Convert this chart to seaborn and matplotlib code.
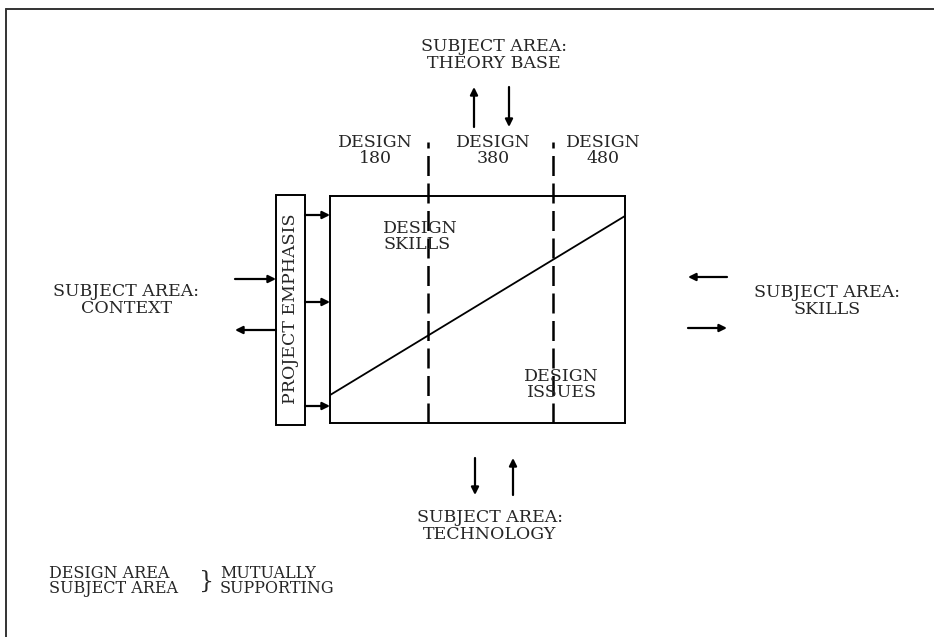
import matplotlib
matplotlib.use("Agg")
import matplotlib.pyplot as plt
from matplotlib.patches import Rectangle
import seaborn as sns

# course sequence across the studio box (0 = start, 1 = end of programme)
course_labels = ["DESIGN\n180", "DESIGN\n380", "DESIGN\n480"]
course_label_pos = [0.153, 0.553, 0.925]
course_breaks = [0.332, 0.756]

# split between design skills (above the line) and design issues (below)
progress = [0.0, 1.0]
issues_share = [0.123, 0.912]

region_labels = ["DESIGN\nSKILLS", "DESIGN\nISSUES"]

subject_top = "SUBJECT AREA:\nTHEORY BASE"
subject_bottom = "SUBJECT AREA:\nTECHNOLOGY"
subject_left = "SUBJECT AREA:\nCONTEXT"
subject_right = "SUBJECT AREA:\nSKILLS"
emphasis_label = "PROJECT EMPHASIS"
note_left = "DESIGN AREA\nSUBJECT AREA"
note_right = "MUTUALLY\nSUPPORTING"

W, H = 934, 637

sns.set_style("white")
plt.rcParams["font.family"] = ["DejaVu Serif"]

fig = plt.figure(figsize=(W / 100, H / 100), dpi=100)

# full-page canvas in pixel units for the surrounding annotations
cv = fig.add_axes([0, 0, 1, 1])
cv.set_xlim(0, W)
cv.set_ylim(H, 0)
cv.axis("off")

txt = dict(fontsize=12.5, color="#262626", linespacing=0.93)

def arrow(x0, y0, x1, y1):
    cv.annotate("", xy=(x1, y1), xytext=(x0, y0),
                arrowprops=dict(arrowstyle="-|>", lw=1.6, color="black",
                                mutation_scale=11, shrinkA=0, shrinkB=0))

# page frame (top and left rules only)
cv.plot([6, W], [9, 9], color="#333333", lw=1.4)
cv.plot([6, 6], [9, H], color="#333333", lw=1.4)

# subject areas around the studio
cv.text(494, 55, subject_top, ha="center", va="center", **txt)
arrow(474, 127, 474, 87)
arrow(509, 87, 509, 127)

cv.text(490, 526, subject_bottom, ha="center", va="center", **txt)
arrow(475, 458, 475, 495)
arrow(513, 495, 513, 458)

cv.text(126, 300, subject_left, ha="center", va="center", **txt)
arrow(235, 279, 276, 279)
arrow(276, 330, 235, 330)

cv.text(827, 301, subject_right, ha="center", va="center", **txt)
arrow(727, 277, 688, 277)
arrow(688, 328, 727, 328)

# project emphasis bar
cv.add_patch(Rectangle((276, 195), 29, 230, fill=False, lw=1.4, ec="black"))
cv.text(290.5, 309, emphasis_label, rotation=90, ha="center", va="center", **txt)
for y in [215, 302, 406]:
    arrow(305, y, 330, y)

# note at bottom left
cv.text(49, 581, note_left, ha="left", va="center", fontsize=11.5,
        color="#262626", linespacing=0.86)
cv.text(207, 581, "}", ha="center", va="center", fontsize=17, color="#262626")
cv.text(220, 581, note_right, ha="left", va="center", fontsize=11.5,
        color="#262626", linespacing=0.86)

# studio box
ax = fig.add_axes([330 / W, 1 - 423 / H, 295 / W, 227 / H])
sns.lineplot(x=progress, y=issues_share, ax=ax, color="black", lw=1.3)
ax.set_xlim(0, 1)
ax.set_ylim(0, 1)
ax.set_xticks([])
ax.set_yticks([])
ax.set_xlabel("")
ax.set_ylabel("")
for s in ax.spines.values():
    s.set_visible(True)
    s.set_color("black")
    s.set_linewidth(1.4)

ax.vlines(course_breaks, 0, 1.238, colors="black", lw=1.8,
          linestyles=(0, (8, 3)), clip_on=False)
for pos, lab in zip(course_label_pos, course_labels):
    ax.text(pos, 1.2, lab, transform=ax.transAxes, ha="center", va="center", **txt)

ax.text(0.18, 0.82, region_labels[0], ha="left", va="center", **txt)
ax.text(0.785, 0.17, region_labels[1], ha="center", va="center", **txt)

fig.savefig("out.png", dpi=100, facecolor="white")
